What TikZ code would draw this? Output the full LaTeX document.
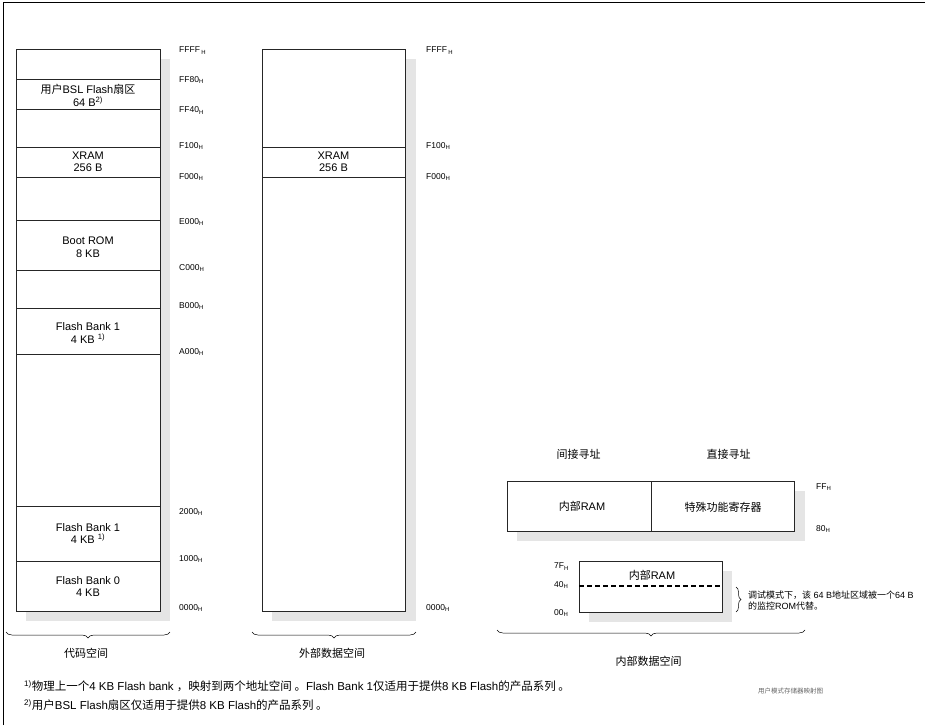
\documentclass[tikz,border=0pt]{standalone}
\usepackage{fontspec}
\setmainfont{Liberation Sans}
\newfontfamily\cjk{Noto Sans CJK SC}
\usetikzlibrary{decorations.pathreplacing}
\newcommand{\zh}[1]{{\cjk #1}}

\begin{document}
\begin{tikzpicture}[x=1pt,y=-1pt,
    mem/.style={draw=black!85, line width=0.7pt, fill=white},
    sep/.style={draw=black!85, line width=0.7pt},
    shade/.style={fill=black!10},
    lbl/.style={font=\fontsize{11}{12.5}\selectfont, align=center, inner sep=0pt},
    addr/.style={font=\fontsize{8.5}{9}\selectfont, anchor=west, inner sep=0pt},
    brc/.style={decorate, decoration={brace, amplitude=6pt}, line width=0.5pt},
    brcdown/.style={brc, decoration={mirror}},
    foot/.style={font=\fontsize{11.5}{13}\selectfont, anchor=west, inner sep=0pt}]
    \useasboundingbox (0,0) rectangle (925,725);
    %\draw[help lines, step=50] (0,0) grid (925,725);
    \draw[line width=1pt] (3,725) -- (3,3) -- (925,3);

    % code space
    \path[shade] (26,59) rectangle (170,621);
    \path[mem] (16,49) rectangle (160,611);
    \foreach \y in {79.5,109.5,147.5,177.5,220,270,308,354,506,561}
        \draw[sep] (16,\y) -- (160,\y);
    \node[lbl] (bsl) at (88,95.3) {\zh{用户}BSL Flash\zh{扇区}\\64 B\textsuperscript{2)}};
    \node[lbl] (xram) at (88,162) {XRAM\\256 B};
    \node[lbl] (boot) at (88,247.3) {Boot ROM\\8 KB};
    \node[lbl] (bankhi) at (88,333) {Flash Bank 1\\4 KB \textsuperscript{1)}};
    \node[lbl] (banklo) at (88,533.5) {Flash Bank 1\\4 KB \textsuperscript{1)}};
    \node[lbl] (bankzero) at (88,586.3) {Flash Bank 0\\4 KB};
    \node[addr] (cFFFF) at (179,50.7) {FFFF\,\textsubscript{H}};
    \foreach \a/\y in {FF80/80,FF40/110.7,F100/146,F000/176.7,E000/221.7,C000/268,
                       B000/306,A000/352,2000/511.7,1000/559,0000/608}
        \node[addr] (c\a) at (179,\y) {\a\textsubscript{H}};
    \draw[brcdown] (6,632) -- (170,632);
    \node[lbl] (codesp) at (86,653) {\zh{代码空间}};

    % external data space
    \path[shade] (272,59) rectangle (416,621);
    \path[mem] (262,49) rectangle (405,611);
    \foreach \y in {147.5,177.5}
        \draw[sep] (262,\y) -- (405,\y);
    \node[lbl] (xramx) at (333.5,162) {XRAM\\256 B};
    \node[addr] (xFFFF) at (426,50.7) {FFFF\,\textsubscript{H}};
    \foreach \a/\y in {F100/146,F000/176.7,0000/608}
        \node[addr] (x\a) at (426,\y) {\a\textsubscript{H}};
    \draw[brcdown] (252,632) -- (416,632);
    \node[lbl] (xdatasp) at (332,653) {\zh{外部数据空间}};

    % internal data space
    \node[lbl] (indirect) at (578.5,454.5) {\zh{间接寻址}};
    \node[lbl] (direct) at (728.5,454.5) {\zh{直接寻址}};
    \path[shade] (517,491) rectangle (805,541);
    \path[mem] (507,481) rectangle (794,531);
    \draw[sep] (651,481) -- (651,531);
    \node[lbl] (iram) at (582,506) {\zh{内部}RAM};
    \node[lbl] (sfr) at (723,507.5) {\zh{特殊功能寄存器}};
    \node[addr] (iFF) at (816,487.3) {FF\textsubscript{H}};
    \node[addr] (i80) at (816,529.3) {80\textsubscript{H}};
    \path[shade] (589,571) rectangle (732,622);
    \path[mem] (579,561) rectangle (722,612);
    \draw[line width=1.3pt, dash pattern=on 5pt off 3pt] (579,586) -- (722,586);
    \node[lbl] (iramlo) at (652,575.5) {\zh{内部}RAM};
    \node[addr] (i7F) at (554,566.7) {7F\textsubscript{H}};
    \node[addr] (i40) at (554,585) {40\textsubscript{H}};
    \node[addr] (i00) at (554,613.3) {00\textsubscript{H}};
    \draw[brc, decoration={amplitude=5pt}] (736,587) -- (736,612);
    \node[foot, font=\fontsize{9}{10.8}\selectfont, align=left] (note) at (748,600.5)
        {\zh{调试模式下，该} 64 B\zh{地址区域被一个}64 B\\\zh{的监控}ROM\zh{代替。}};
    \draw[brcdown] (497,630) -- (805,630);
    \node[lbl] (idatasp) at (648.5,661.5) {\zh{内部数据空间}};

    % footnotes
    \node[foot] (fna) at (24,686) {\textsuperscript{1)}\zh{物理上一个}4 KB Flash bank \zh{，映射到两个地址空间 。}Flash Bank 1\zh{仅适用于提供}8 KB Flash\zh{的产品系列 。}};
    \node[foot] (fnb) at (24,705) {\textsuperscript{2)}\zh{用户}BSL Flash\zh{扇区仅适用于提供}8 KB Flash\zh{的产品系列 。}};
    \node[foot, font=\fontsize{6.5}{7}\selectfont, text=black!60] (title) at (758,691.5) {\zh{用户模式存储器映射图}};
\end{tikzpicture}
\end{document}
